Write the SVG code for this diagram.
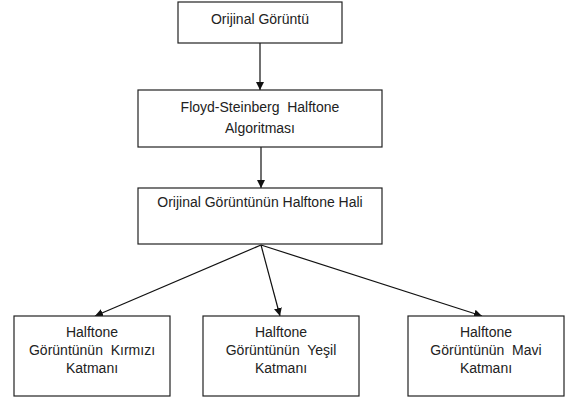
<svg xmlns="http://www.w3.org/2000/svg" width="566" height="400" viewBox="0 0 566 400">
<style>
.box{fill:#fff;stroke:#222;stroke-width:1.2}
.t{font-family:"Liberation Sans",Arial,sans-serif;font-size:14px;fill:#222;text-anchor:middle;white-space:pre}
.c{stroke:#111;stroke-width:1.2;fill:none;marker-end:url(#ah)}
</style>
<defs>
<marker id="ah" viewBox="0 0 10 10" refX="10" refY="5" markerWidth="8" markerHeight="8" markerUnits="userSpaceOnUse" orient="auto">
<path d="M0,0 L10,5 L0,10 z" fill="#111"/>
</marker>
</defs>
<rect width="566" height="400" fill="#fff"/>
<g id="connectors">
<line class="c" x1="260" y1="43" x2="260" y2="90"/>
<line class="c" x1="261" y1="147" x2="261" y2="188"/>
<line class="c" x1="261" y1="245" x2="95" y2="316"/>
<line class="c" x1="261" y1="245" x2="280" y2="316"/>
<line class="c" x1="261" y1="245" x2="482" y2="316"/>
</g>
<g id="n1">
<rect class="box" x="178" y="2" width="164" height="41"/>
<text class="t" x="260" y="24">Orijinal Görüntü</text>
</g>
<g id="n2">
<rect class="box" x="138" y="90" width="244" height="57"/>
<text class="t" x="260" y="112" xml:space="preserve">Floyd-Steinberg  Halftone</text>
<text class="t" x="260" y="133">Algoritması</text>
</g>
<g id="n3">
<rect class="box" x="138" y="188" width="244" height="56"/>
<text class="t" x="260" y="207">Orijinal Görüntünün Halftone Hali</text>
</g>
<g id="n4">
<rect class="box" x="14" y="316" width="156" height="80"/>
<text class="t" x="92" y="337">Halftone</text>
<text class="t" x="92" y="355" xml:space="preserve">Görüntünün  Kırmızı</text>
<text class="t" x="92" y="373">Katmanı</text>
</g>
<g id="n5">
<rect class="box" x="203" y="316" width="156" height="80"/>
<text class="t" x="281" y="337">Halftone</text>
<text class="t" x="281" y="355" xml:space="preserve">Görüntünün  Yeşil</text>
<text class="t" x="281" y="373">Katmanı</text>
</g>
<g id="n6">
<rect class="box" x="408" y="316" width="156" height="80"/>
<text class="t" x="486" y="337">Halftone</text>
<text class="t" x="486" y="355" xml:space="preserve">Görüntünün  Mavi</text>
<text class="t" x="486" y="373">Katmanı</text>
</g>
</svg>
